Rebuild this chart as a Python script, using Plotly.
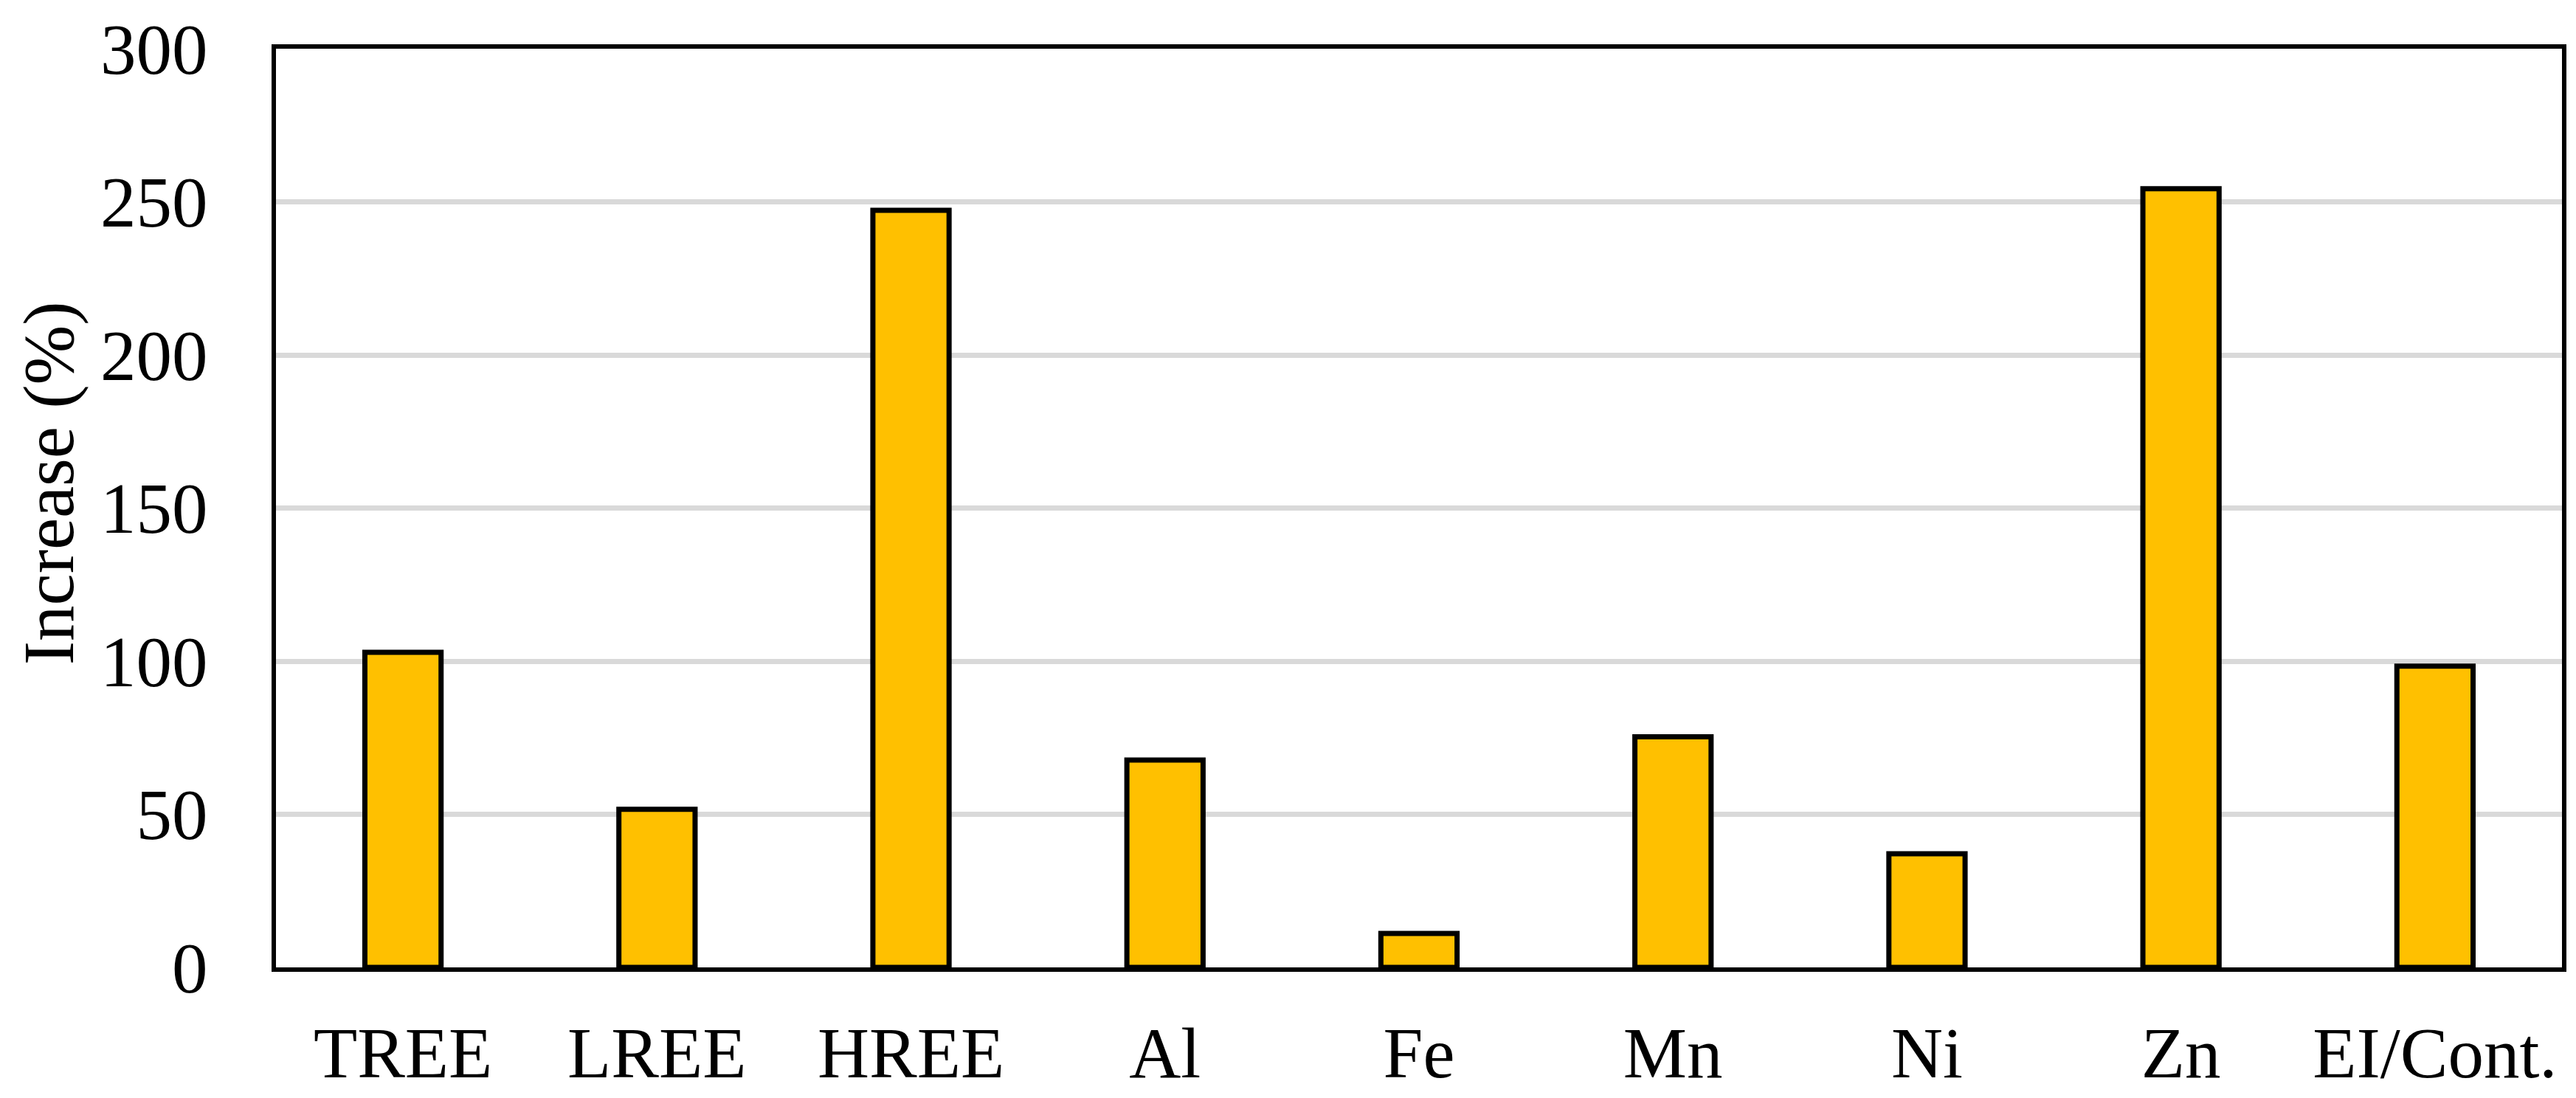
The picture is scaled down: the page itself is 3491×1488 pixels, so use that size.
import plotly.graph_objects as go

# element groups and their increase (%)
categories = ["TREE", "LREE", "HREE", "Al", "Fe", "Mn", "Ni", "Zn", "EI/Cont."]
increase = [102.9, 51.6, 247.2, 67.7, 11.1, 75.3, 37.1, 254.3, 98.4]
y_ticks = [0, 50, 100, 150, 200, 250, 300]

font_family = "Liberation Serif, Times New Roman, serif"

fig = go.Figure()
fig.add_trace(go.Bar(
    x=categories,
    y=increase,
    marker=dict(color="#FFC000", line=dict(color="black", width=7)),
    showlegend=False,
))

# the page body pushes the figure down a few px, so keep it a bit shorter
fig.update_layout(
    width=3491, height=1472,
    margin=dict(l=366, r=27, t=58, b=169),
    plot_bgcolor="white", paper_bgcolor="white",
    font=dict(family=font_family, size=97, color="black"),
    bargap=0.7,
)

fig.update_xaxes(
    showline=True, mirror=True, linecolor="black", linewidth=6,
    showgrid=False, ticks="", ticklabelstandoff=27, automargin=False,
)
fig.update_yaxes(
    range=[0, 300], tickvals=y_ticks,
    showline=True, mirror=True, linecolor="black", linewidth=6,
    showgrid=True, gridcolor="#D9D9D9", gridwidth=7, zeroline=False,
    ticks="", ticklabelstandoff=67, automargin=False,
)

# y title as an annotation so it sits left of the tick labels
fig.add_annotation(
    text="Increase (%)", textangle=-90, showarrow=False,
    xref="paper", yref="paper", x=-0.099, y=0.527,
    xanchor="center", yanchor="middle", borderpad=0,
    font=dict(family=font_family, size=97, color="black"),
)

fig.write_html("out.html")
